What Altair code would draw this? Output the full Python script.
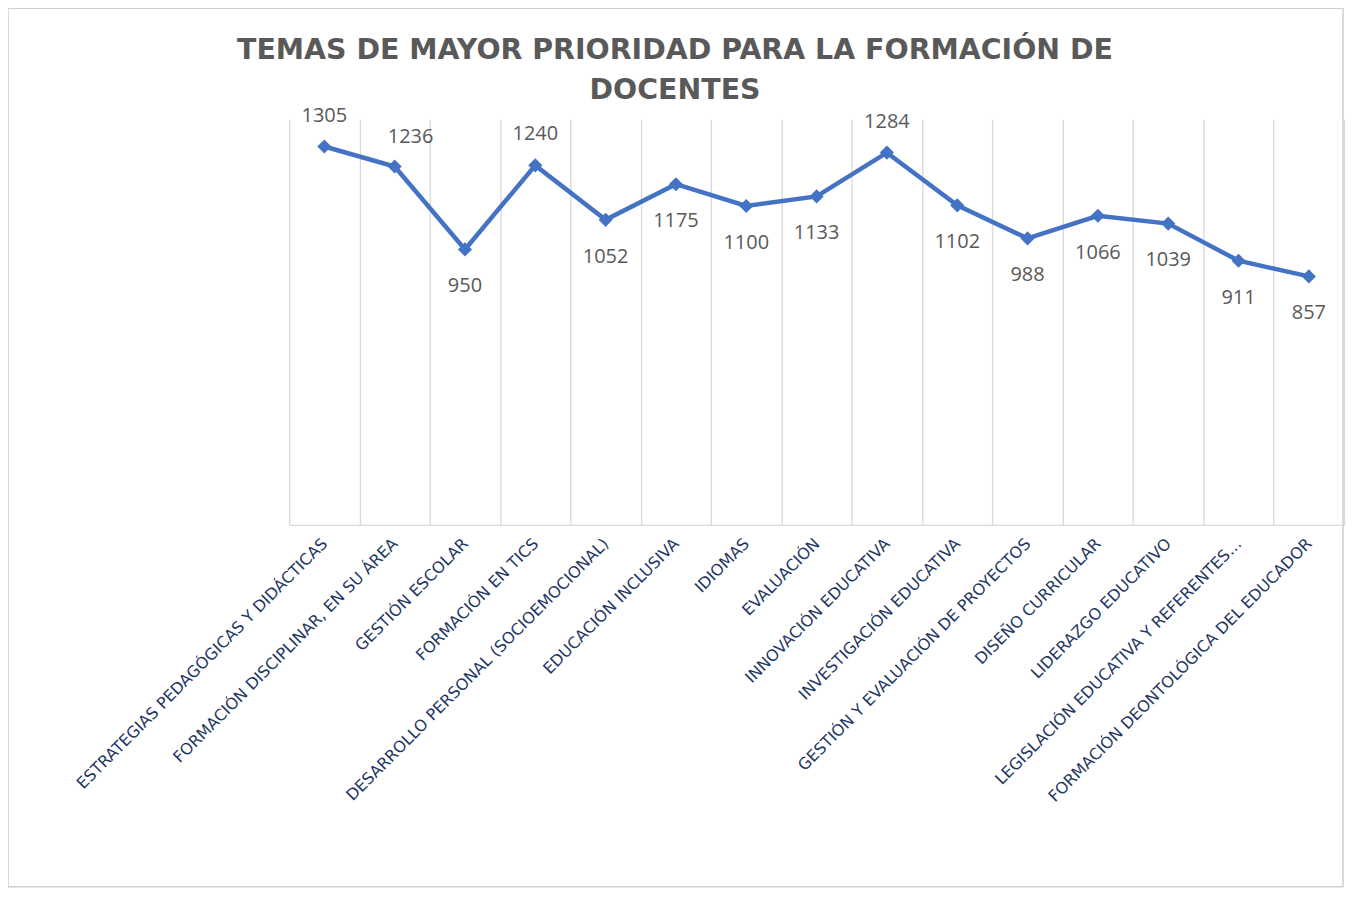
import altair as alt
import pandas as pd

titulo = ["TEMAS DE MAYOR PRIORIDAD PARA LA FORMACIÓN DE", "DOCENTES"]
categorias = [
    "ESTRATEGIAS PEDAGÓGICAS Y DIDÁCTICAS",
    "FORMACIÓN DISCIPLINAR, EN SU ÁREA",
    "GESTIÓN ESCOLAR",
    "FORMACIÓN EN TICS",
    "DESARROLLO PERSONAL (SOCIOEMOCIONAL)",
    "EDUCACIÓN INCLUSIVA",
    "IDIOMAS",
    "EVALUACIÓN",
    "INNOVACIÓN EDUCATIVA",
    "INVESTIGACIÓN EDUCATIVA",
    "GESTIÓN Y EVALUACIÓN DE PROYECTOS",
    "DISEÑO CURRICULAR",
    "LIDERAZGO EDUCATIVO",
    "LEGISLACIÓN EDUCATIVA Y REFERENTES…",
    "FORMACIÓN DEONTOLÓGICA DEL EDUCADOR",
]
valores = [1305, 1236, 950, 1240, 1052, 1175, 1100, 1133, 1284, 1102, 988, 1066, 1039, 911, 857]
posicion_etiqueta = ["arriba", "arriba_der", "abajo", "arriba", "abajo", "abajo", "abajo", "abajo",
                     "arriba", "abajo", "abajo", "abajo", "abajo", "abajo", "abajo"]

df = pd.DataFrame({"tema": categorias, "valor": valores, "pos": posicion_etiqueta})

W, H = 1058, 407
AZUL = "#4472C4"
GRIS = "#595959"

x = alt.X(
    "tema:N", sort=categorias,
    scale=alt.Scale(type="band", paddingInner=0, paddingOuter=0),
    axis=alt.Axis(
        title=None, tickBand="extent", ticks=False, grid=True,
        gridColor="#d9d9d9", gridWidth=1.3, domainColor="#d9d9d9", domainWidth=1.3,
        labelAngle=-45, labelAlign="right", labelBaseline="middle",
        labelFont="DejaVu Sans", labelFontSize=16, labelColor="#1F3864",
        labelPadding=16, labelLimit=0,
    ),
)
y = alt.Y("valor:Q", scale=alt.Scale(domain=[0, 1400]), axis=None)

base = alt.Chart(df)
uno = base.transform_filter(alt.datum.tema == categorias[0])

borde = uno.mark_rect(fill=None, stroke="#cfcfcf", strokeWidth=1.5, clip=False).encode(
    x=alt.value(-282), x2=alt.value(W - 1), y=alt.value(-111), y2=alt.value(770)
)

titulo_txt = uno.mark_text(
    text=titulo, font="DejaVu Sans", fontSize=28.5, fontWeight="bold", color=GRIS,
    lineHeight=40, align="center", baseline="alphabetic",
).encode(x=alt.value(677 - 290), y=alt.value(-60))

linea = base.mark_line(color=AZUL, strokeWidth=4.5).encode(x=x, y=y)
puntos = base.mark_point(shape="diamond", filled=True, size=200, color=AZUL, opacity=1).encode(x=x, y=y)

txt_style = dict(font="Open Sans", fontSize=20, color=GRIS, baseline="middle", align="center")
arriba = base.transform_filter(alt.datum.pos == "arriba").mark_text(dy=-31, **txt_style).encode(
    x=x, y=y, text="valor:Q")
arriba_der = base.transform_filter(alt.datum.pos == "arriba_der").mark_text(dx=16, dy=-30, **txt_style).encode(
    x=x, y=y, text="valor:Q")
abajo = base.transform_filter(alt.datum.pos == "abajo").mark_text(dy=37, **txt_style).encode(
    x=x, y=y, text="valor:Q")

chart = alt.layer(borde, titulo_txt, linea, puntos, arriba, arriba_der, abajo).properties(
    width=W, height=H,
    autosize=alt.AutoSizeParams(type="none"),
    padding={"left": 282, "top": 110, "right": 2, "bottom": 366},
).configure_view(stroke=None)

chart.save("out.html", embed_options={"renderer": "svg", "actions": False})
